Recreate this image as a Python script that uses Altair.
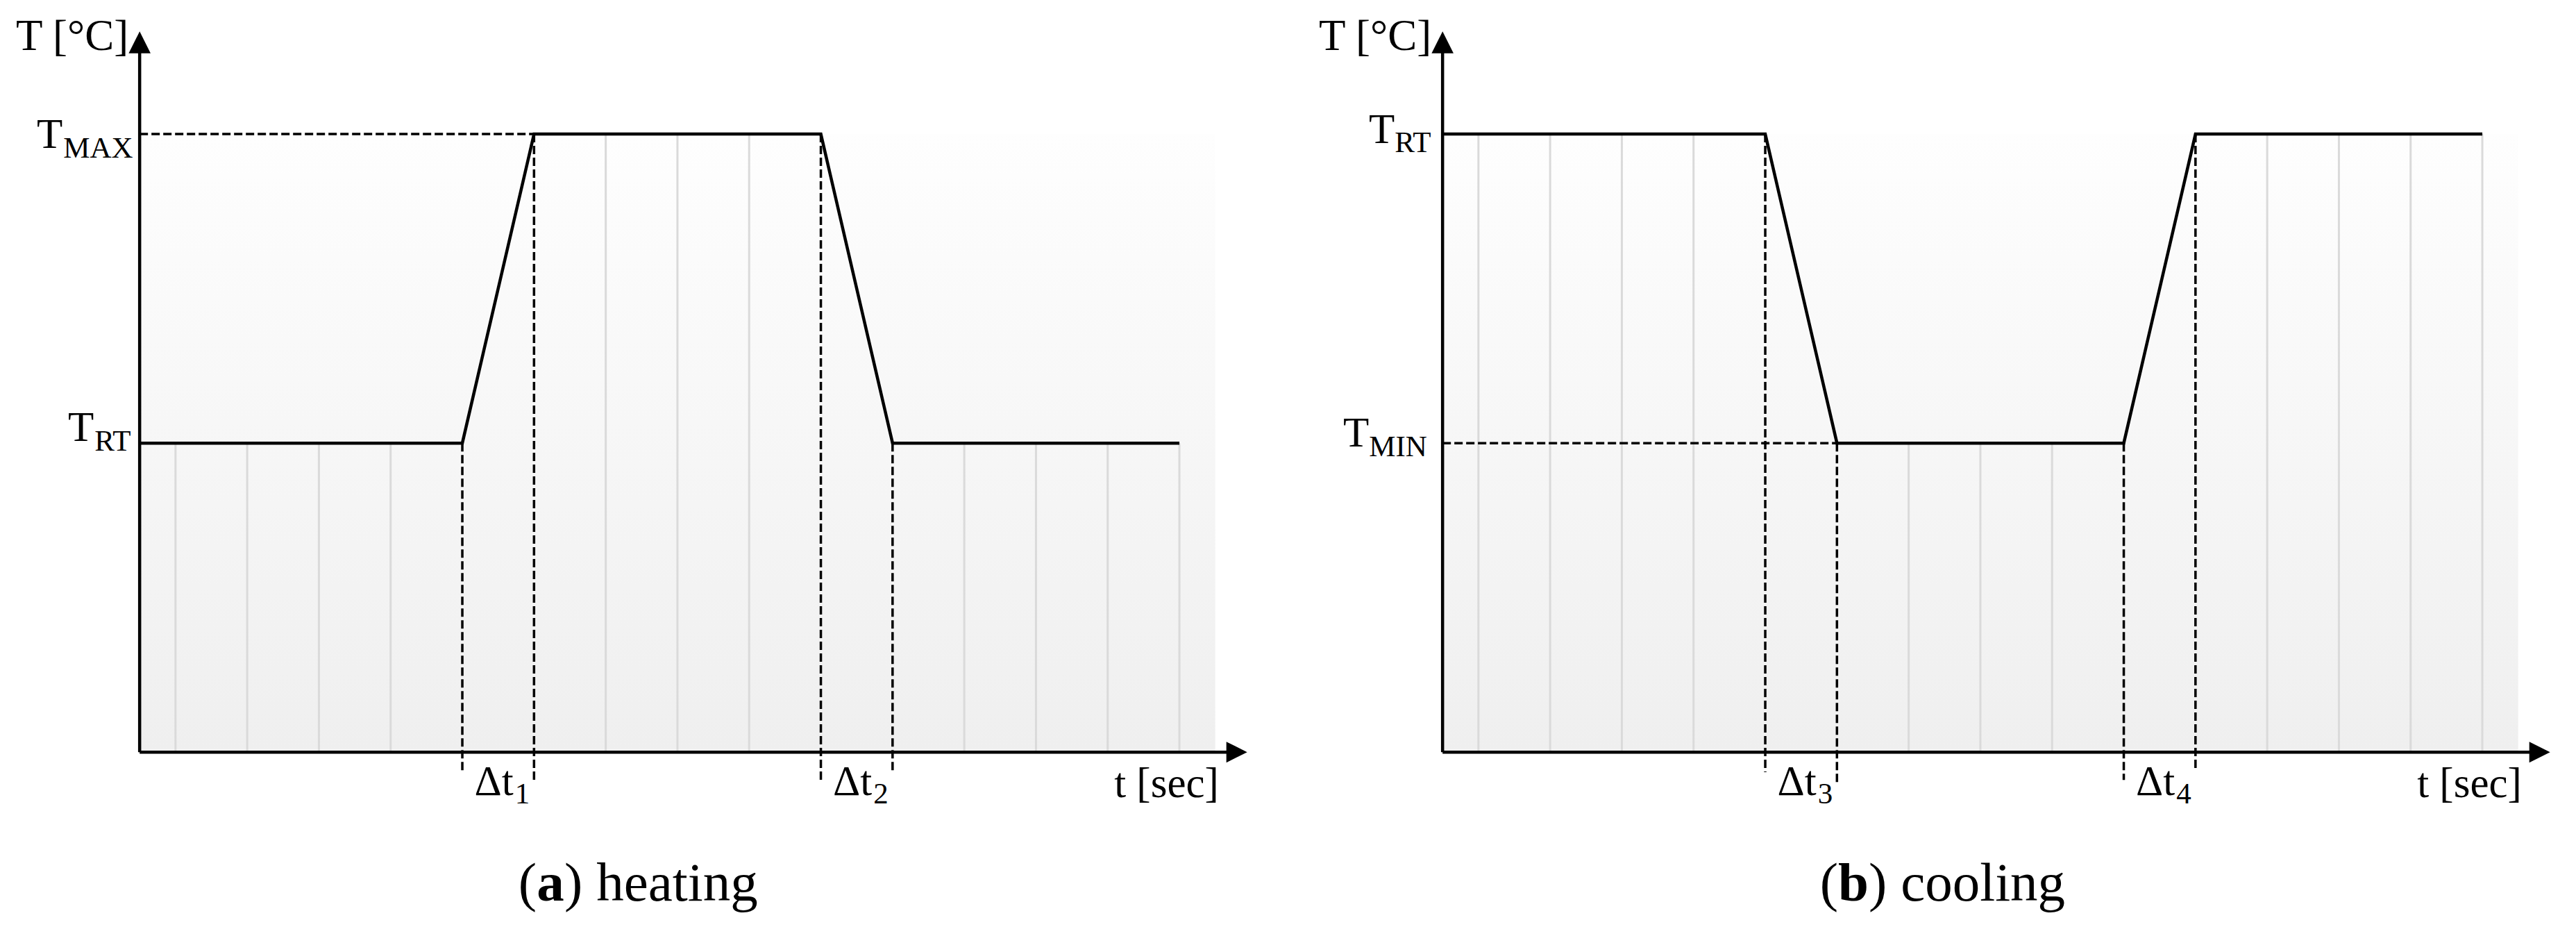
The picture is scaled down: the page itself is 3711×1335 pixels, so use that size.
import altair as alt
import numpy as np
import pandas as pd

# ---------------- data (schematic, relative units) ----------------
t_profile = [0.5, 5, 6, 10, 11, 15]          # time nodes of the profile
heating_T = [1, 1, 2, 2, 1, 1]               # T_RT -> T_MAX -> T_RT
cooling_T = [2, 2, 1, 1, 2, 2]               # T_RT -> T_MIN -> T_RT
grid_t = [1, 2, 3, 4, 7, 8, 9, 12, 13, 14, 15]
delta_t = [5, 6, 10, 11]
delta_bottom = [-0.065, -0.1, -0.09, -0.06]
delta_centers = [5.5, 10.5]
heating_delta_subs = ["1", "2"]
cooling_delta_subs = ["3", "4"]
heating_levels = [("T", "MAX", 2), ("T", "RT", 1)]
cooling_levels = [("T", "RT", 2), ("T", "MIN", 1)]
heating_caption = ("a", ") heating")
cooling_caption = ("b", ") cooling")
y_title = "T [°C]"
x_title = "t [sec]"
delta_symbol = "Δt"

FONT = "Liberation Serif"
XS = alt.Scale(domain=[-1.37, 16.2], nice=False, zero=False)
YS = alt.Scale(domain=[-0.539, 2.416], nice=False, zero=False)
W, H = 1815, 1315


def X(f="x"):
    return alt.X(f"{f}:Q", scale=XS, axis=None)


def Y(f="y"):
    return alt.Y(f"{f}:Q", scale=YS, axis=None)


def txt(x, y, text, size, align, dx=0, dy=0, weight="normal"):
    df = pd.DataFrame({"x": [x], "y": [y], "t": [text]})
    return alt.Chart(df).mark_text(
        font=FONT, fontSize=size, align=align, baseline="alphabetic",
        dx=dx, dy=dy, fontWeight=weight, color="black"
    ).encode(x=X(), y=Y(), text="t:N")


def panel(T, levels, label_offsets, dash_level, delta_subs, caption, cap_half):
    layers = []
    top = max(T)
    # background gradient area
    bg = pd.DataFrame({"x": [t_profile[0]], "x2": [15.5], "y": [0], "y2": [top]})
    layers.append(
        alt.Chart(bg).mark_rect(
            fill=alt.Gradient(
                gradient="linear",
                stops=[alt.GradientStop(color="#fefefe", offset=0),
                       alt.GradientStop(color="#efefef", offset=1)],
                x1=0, x2=0, y1=0, y2=1,
            )
        ).encode(x=X(), x2="x2:Q", y=Y(), y2="y2:Q")
    )
    # light grid lines under the curve
    gdf = pd.DataFrame({"x": grid_t, "y": [0] * len(grid_t),
                        "top": np.interp(grid_t, t_profile, T)})
    layers.append(
        alt.Chart(gdf).mark_rule(color="#dadada", strokeWidth=3)
        .encode(x=X(), y=Y(), y2="top:Q")
    )
    # dashed verticals
    ddf = pd.DataFrame({"x": delta_t, "y": np.interp(delta_t, t_profile, T),
                        "bottom": delta_bottom})
    layers.append(
        alt.Chart(ddf).mark_rule(color="black", strokeWidth=3.5, strokeDash=[12, 5])
        .encode(x=X(), y=Y(), y2="bottom:Q")
    )
    # dashed horizontal
    hdf = pd.DataFrame({"x": [t_profile[0]], "x2": [delta_t[1]], "y": [dash_level]})
    layers.append(
        alt.Chart(hdf).mark_rule(color="black", strokeWidth=3.5, strokeDash=[12, 5])
        .encode(x=X(), x2="x2:Q", y=Y())
    )
    # profile curve
    cdf = pd.DataFrame({"x": t_profile, "y": T, "i": range(len(T))})
    layers.append(
        alt.Chart(cdf).mark_line(color="black", strokeWidth=4.5)
        .encode(x=X(), y=Y(), order="i:Q")
    )
    # axes
    ya = pd.DataFrame({"x": [t_profile[0]], "y": [0], "y2": [2.29]})
    layers.append(alt.Chart(ya).mark_rule(color="black", strokeWidth=4.5)
                  .encode(x=X(), y=Y(), y2="y2:Q"))
    xa = pd.DataFrame({"x": [t_profile[0]], "x2": [15.78], "y": [0]})
    layers.append(alt.Chart(xa).mark_rule(color="black", strokeWidth=4.5)
                  .encode(x=X(), x2="x2:Q", y=Y()))
    up = pd.DataFrame({"x": [t_profile[0]], "y": [2.297]})
    layers.append(alt.Chart(up).mark_point(
        shape="M0,-1L1,1L-1,1Z", size=1000, filled=True, color="black", opacity=1)
        .encode(x=X(), y=Y()))
    rt = pd.DataFrame({"x": [15.8], "y": [0]})
    layers.append(alt.Chart(rt).mark_point(
        shape="M1,0L-1,-1L-1,1Z", size=900, filled=True, color="black", opacity=1)
        .encode(x=X(), y=Y()))
    # axis titles
    layers.append(txt(t_profile[0], 2.272, y_title, 63, "right", dx=-16))
    layers.append(txt(15.55, -0.146, x_title, 61, "right"))
    # level labels
    for (main, sub, lvl), (dxT, dyT, dxS, dyS) in zip(levels, label_offsets):
        layers.append(txt(t_profile[0], lvl, main, 61, "right", dx=dxT, dy=dyT))
        layers.append(txt(t_profile[0], lvl, sub, 43, "left", dx=dxS, dy=dyS))
    # delta t labels
    for c, s in zip(delta_centers, delta_subs):
        layers.append(txt(c, -0.139, delta_symbol, 61, "right", dx=22))
        layers.append(txt(c, -0.139, s, 43, "left", dx=24, dy=12))
    # caption
    letter, rest = caption
    layers.append(txt(6.23, -0.481, "(", 79, "right", dx=-cap_half))
    layers.append(txt(6.23, -0.481, letter, 79, "center", weight="bold"))
    layers.append(txt(6.23, -0.481, rest, 79, "left", dx=cap_half))
    return alt.layer(*layers).properties(width=W, height=H)


pa = panel(heating_T, heating_levels,
           [(-111, 20, -110, 34), (-66, -3, -65, 11)], 2,
           heating_delta_subs, heating_caption, 20)
pb = panel(cooling_T, cooling_levels,
           [(-69, 13, -69, 26), (-106, 5, -106, 19)], 1,
           cooling_delta_subs, cooling_caption, 22)

chart = alt.hconcat(pa, pb, spacing=62).properties(padding=0).configure_view(stroke=None)
chart.save("out.html", embed_options={"renderer": "svg", "actions": False})
